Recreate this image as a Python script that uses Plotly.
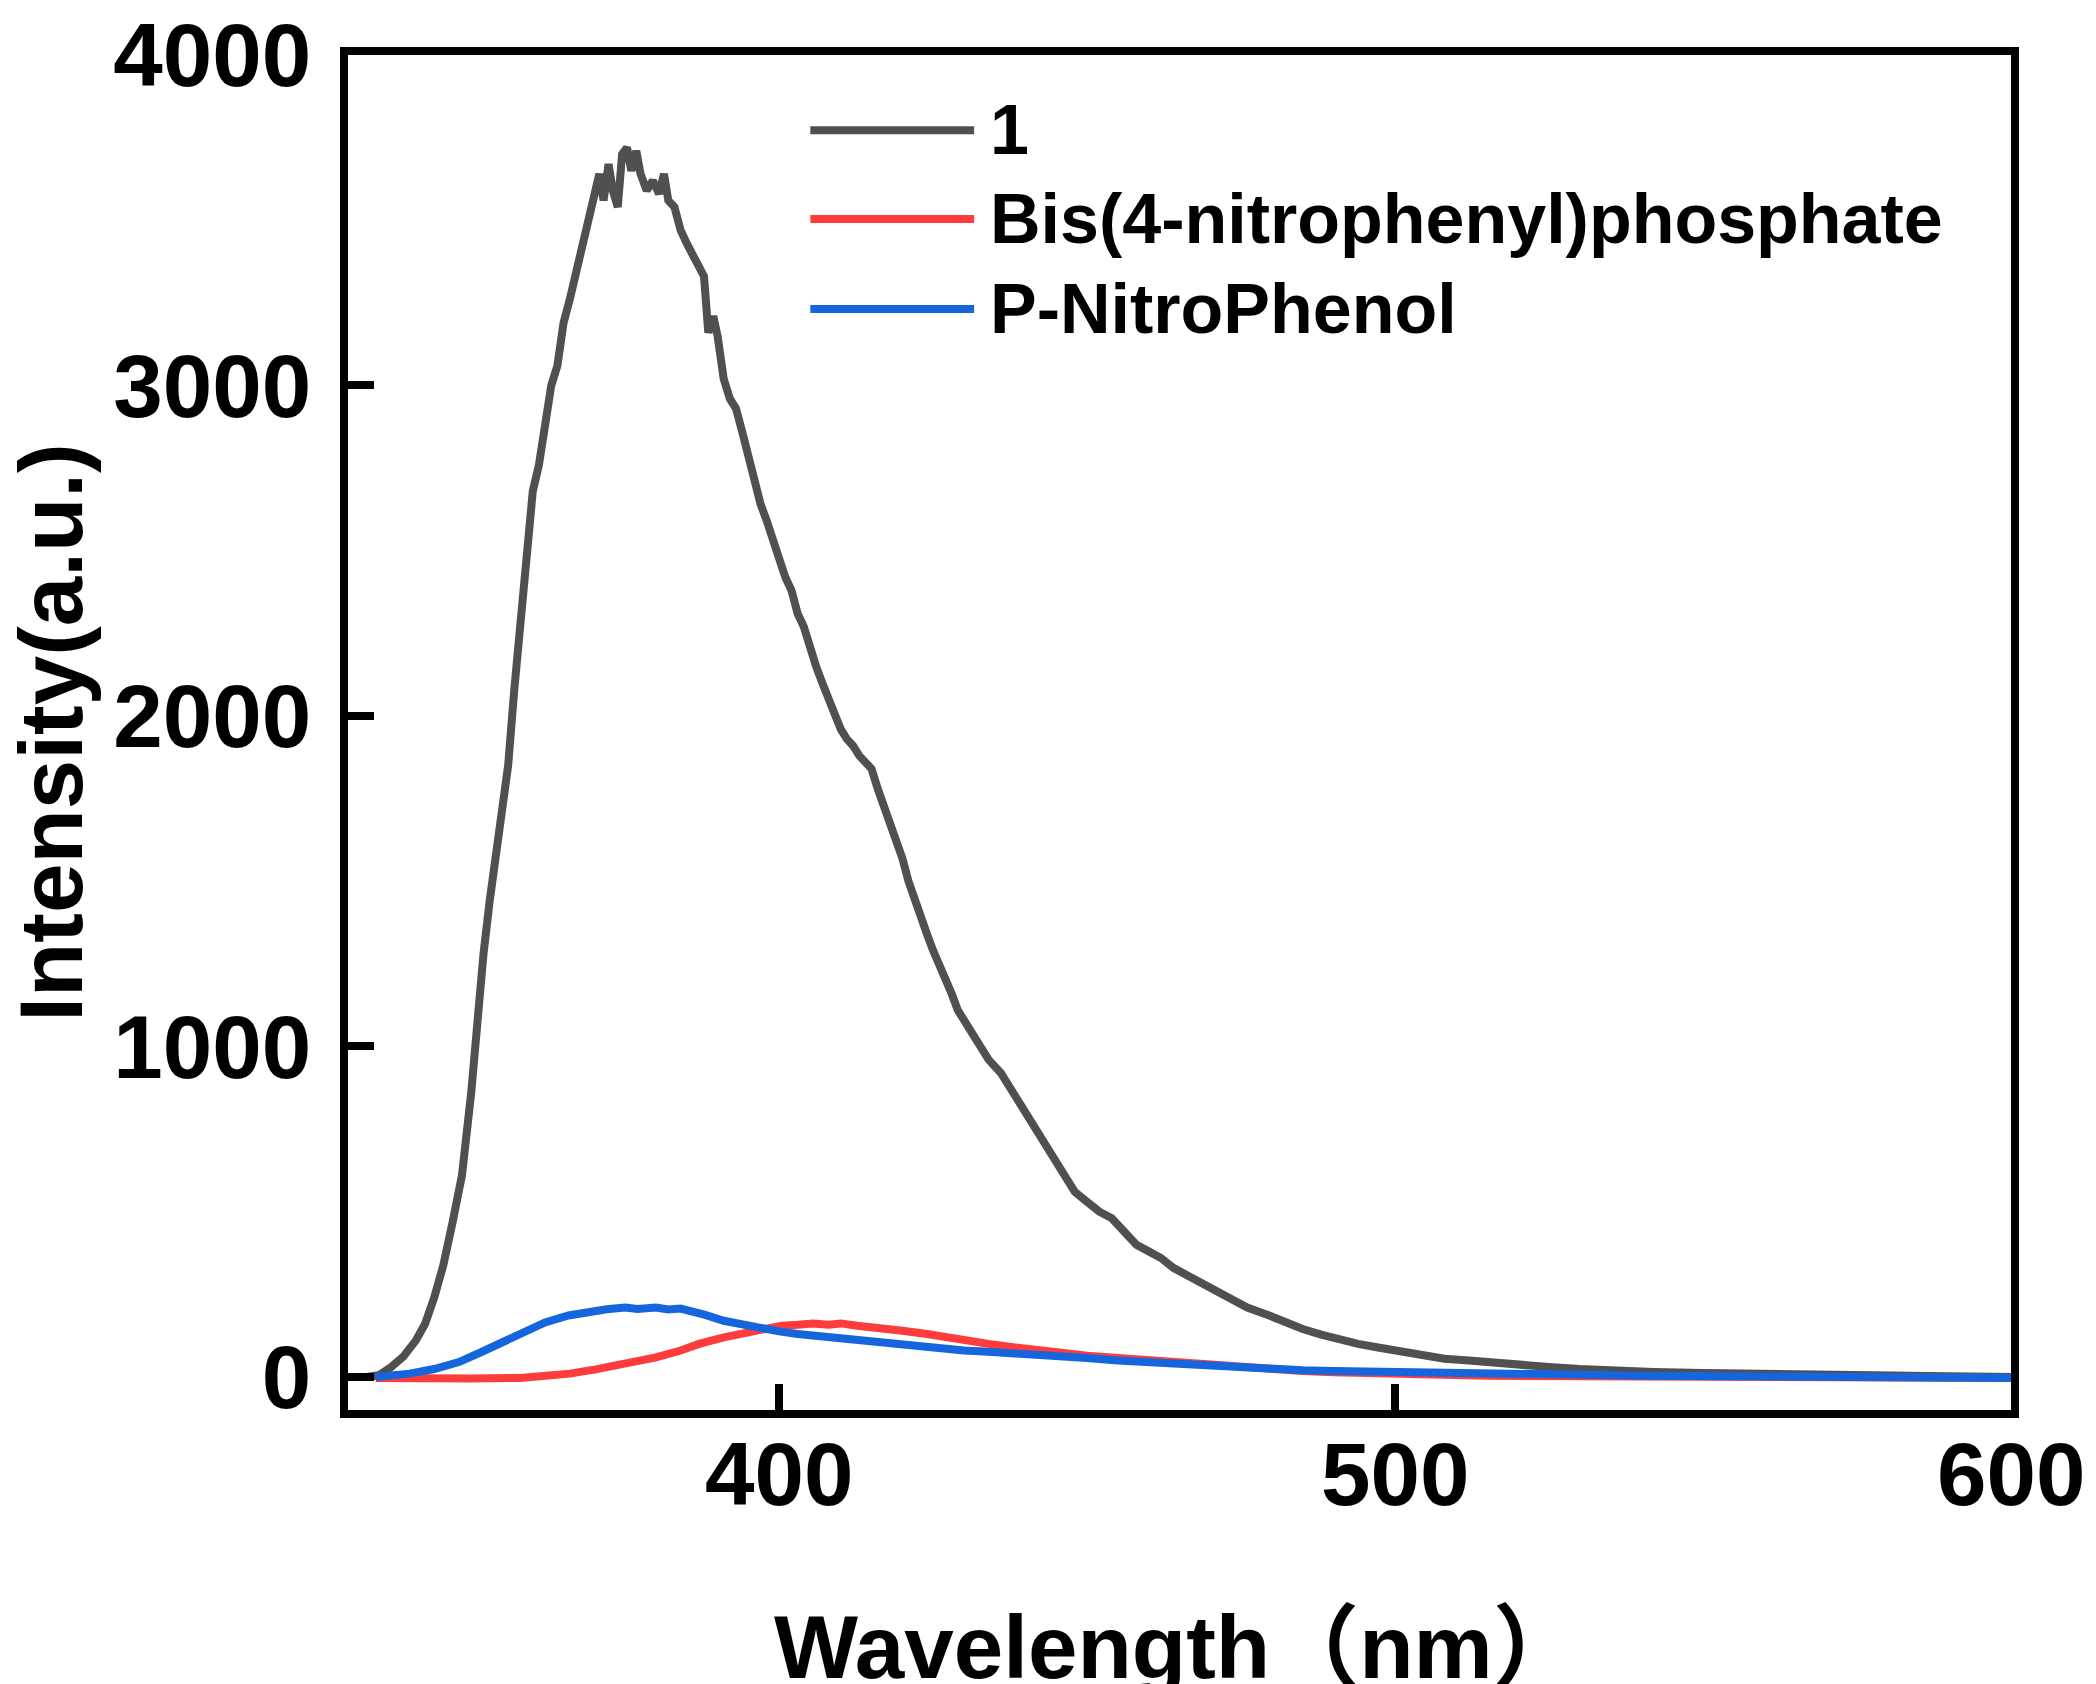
import plotly.graph_objects as go

# emission spectra
wl_1 = [333, 335, 337, 339, 341, 342.5, 344, 345.5, 347, 348.5, 350, 351, 352, 353, 354, 355, 356, 357, 358, 359,
        360, 361, 362, 363, 364, 365, 366, 367, 368, 369, 370, 370.8, 371.5, 372.3, 373, 373.8, 374.5, 375.3, 376, 376.8,
        377.5, 378.5, 379.5, 380.5, 381.3, 382, 383, 384, 385, 386, 387, 387.8, 388.5, 389.3, 390, 391, 392, 393, 394, 395,
        396, 397, 398, 399, 400, 401, 402, 403, 404, 405, 406, 407, 408, 409, 410, 411, 412, 413, 414, 415,
        416, 417, 418, 419, 420, 421, 422, 423, 424, 425, 426, 427, 428, 429, 430, 432, 434, 436, 438, 440,
        442, 444, 446, 448, 450, 452, 454, 456, 458, 460, 462, 464, 466, 468, 470, 473, 476, 479, 482, 485,
        488, 491, 494, 497, 500, 504, 508, 512, 516, 520, 525, 530, 536, 542, 550, 560, 570, 580, 590, 600]
int_1 = [0, 5, 30, 62, 110, 160, 240, 340, 470, 610, 860, 1080, 1280, 1440, 1590, 1720, 1850, 2080, 2290, 2480,
         2680, 2760, 2870, 3000, 3060, 3190, 3260, 3340, 3440, 3500, 3600, 3640, 3560, 3670, 3590, 3540, 3700, 3720, 3650, 3710,
         3640, 3590, 3620, 3580, 3640, 3560, 3540, 3470, 3430, 3390, 3350, 3330, 3160, 3210, 3150, 3020, 2960, 2930, 2860, 2780,
         2700, 2640, 2590, 2530, 2460, 2420, 2380, 2310, 2270, 2200, 2150, 2100, 2050, 2010, 1960, 1930, 1910, 1880, 1860, 1840,
         1780, 1730, 1680, 1630, 1570, 1500, 1440, 1380, 1340, 1290, 1250, 1200, 1160, 1110, 1080, 1030, 960, 920, 860, 800,
         740, 680, 610, 560, 530, 500, 480, 440, 400, 380, 360, 330, 310, 290, 275, 240, 210, 190, 165, 145,
         128, 112, 100, 90, 80, 68, 55, 50, 42, 36, 30, 24, 18, 15, 12, 8, 5, 3, 2, 0]

wl_bnpp = [334.5, 340, 350, 358, 362, 366, 370, 373, 377, 380, 384, 387, 391, 394.6, 398, 400.4, 403, 405.5, 408, 410,
           412.7, 415, 418, 420, 424, 427, 430, 434, 438, 442, 446, 450, 455, 460, 465, 470, 475, 480, 485, 490,
           498, 505, 515, 530, 550, 575, 600]
int_bnpp = [-3, -5, -5, -3, 2, 10, 22, 33, 46, 59, 80, 100, 120, 135, 150, 155, 158, 162, 158, 162,
            155, 152, 146, 140, 130, 120, 110, 100, 90, 80, 72, 64, 57, 50, 42, 35, 28, 22, 18, 14,
            10, 7, 4, 2, 0, -2, -3]

wl_pnp = [334.5, 337, 340, 344, 348, 351.5, 355, 358.6, 362, 365.8, 369, 372, 375, 377, 380, 382, 384, 386, 388, 391,
          394, 397, 400, 403, 406, 409, 412.7, 416, 420, 424, 427, 430, 434, 438, 442, 446, 450, 455, 460, 465,
          470, 475, 480, 485, 490, 498, 505, 515, 525, 540, 555, 570, 585, 600]
int_pnp = [0, 3, 10, 24, 45, 74, 105, 140, 165, 186, 198, 205, 210, 206, 210, 204, 207, 200, 188, 170,
           158, 145, 138, 130, 124, 120, 110, 102, 94, 88, 82, 80, 76, 72, 70, 64, 57, 50, 44, 38,
           32, 28, 24, 20, 18, 15, 12, 9, 6, 4, 2, 0, -2, -3]

names = ['1', 'Bis(4-nitrophenyl)phosphate', 'P-NitroPhenol']
colors = ['#505050', '#ff3c3c', '#1565dc']
widths = [8, 8, 8]
x_ticks = [400, 500, 600]
y_ticks = [0, 1000, 2000, 3000, 4000]

font_main = dict(family='Arial, Liberation Sans, Noto Sans CJK SC', size=89, color='black', weight='bold')

fig = go.Figure()
for wl, val, nm, col, w in zip([wl_1, wl_bnpp, wl_pnp], [int_1, int_bnpp, int_pnp], names, colors, widths):
    fig.add_trace(go.Scatter(x=wl, y=val, name=nm, mode='lines',
                             line=dict(color=col, width=w), showlegend=False))

# hand-made legend (long line samples like the original)
leg_y = [0.9445, 0.879, 0.8125]
for nm, col, yy in zip(names, colors, leg_y):
    fig.add_shape(type='line', xref='paper', yref='paper', x0=0.278, x1=0.3765, y0=yy, y1=yy,
                  line=dict(color=col, width=8))
    fig.add_annotation(x=0.3846, y=yy, xref='paper', yref='paper', text=nm, showarrow=False,
                       xanchor='left', yanchor='middle',
                       font=dict(family='Arial, Liberation Sans', size=70, color='black', weight='bold'))

# x tick labels placed closer to the frame than plotly allows
for xv in x_ticks:
    fig.add_annotation(x=xv, y=-0.047, xref='x', yref='paper', text=str(xv), showarrow=False,
                       xanchor='center', yanchor='middle', font=font_main)

# axis titles
fig.add_annotation(x=0.499, y=-0.175, xref='paper', yref='paper', text='Wavelength（nm）', showarrow=False,
                   xanchor='center', yanchor='middle', font=font_main)
fig.add_annotation(x=-0.179, y=0.5, xref='paper', yref='paper', text='Intensity(a.u.)', showarrow=False,
                   textangle=-90, xanchor='center', yanchor='middle', font=font_main)

fig.update_layout(
    width=2096, height=1684,
    margin=dict(l=340, r=93, t=47, b=282),
    paper_bgcolor='white', plot_bgcolor='white',
    font=font_main,
)
fig.update_xaxes(range=[330, 600], tickvals=x_ticks, ticks='inside', ticklen=26, tickwidth=8, tickcolor='black',
                 showline=True, linewidth=8, linecolor='black', mirror=True, showgrid=False, zeroline=False,
                 showticklabels=False, automargin=False)
fig.update_yaxes(range=[-100, 4000], tickvals=y_ticks, ticks='inside', ticklen=26, tickwidth=8, tickcolor='black',
                 showline=True, linewidth=8, linecolor='black', mirror=True, showgrid=False, zeroline=False,
                 tickfont=font_main, ticklabelstandoff=11, automargin=False, ticklabeloverflow='allow')

fig.write_html('out.html')
